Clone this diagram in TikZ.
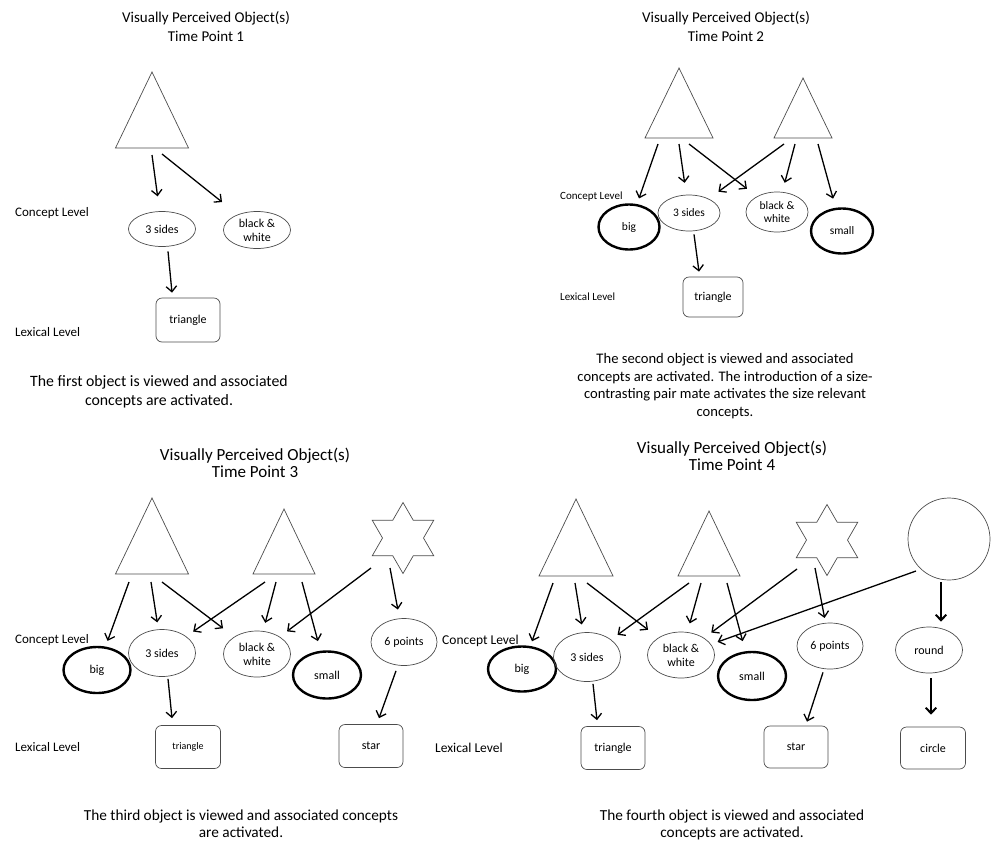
\documentclass[tikz,border=0pt]{standalone}
\usepackage{fontspec}
\setmainfont{Carlito}
\usetikzlibrary{arrows.meta, calc, shapes.geometric}

\begin{document}
\begin{tikzpicture}[x=1pt, y=-1pt,
  outline/.style={draw=black!70, line width=0.7pt},
  concept/.style={ellipse, outline, minimum width=67, minimum height=46, inner sep=0, align=center, font=\fontsize{12}{14}\selectfont},
  salient/.style={concept, draw=black, line width=2.4pt},
  lexbox/.style={rectangle, rounded corners=6, outline, minimum width=64, minimum height=43, inner sep=0, font=\fontsize{12}{14}\selectfont},
  link/.style={-{Straight Barb[length=5.5pt,width=10.5pt]}, line width=1.3pt},
  heading/.style={align=center, font=\fontsize{15}{19}\selectfont},
  bigheading/.style={align=center, font=\fontsize{17}{17}\selectfont},
  level/.style={anchor=west, inner sep=0, font=\fontsize{13}{15}\selectfont},
  caption/.style={align=center, font=\fontsize{15.3}{17}\selectfont}]
  \useasboundingbox (0,0) rectangle (992,841);

  % Perceived shapes
  \foreach \n/\x/\y/\h/\w in {t1/152/72/76/36.5, t2a/679/68/70/34, t2b/803/78/60/29,
      t3a/152/498/76/36.5, t3b/284/509/65/31, t4a/576/499/77/37, t4b/709/511/65/31} {
    \coordinate (\n) at (\x,\y);
    \draw[outline] (\n) -- ++(\w,\h) -- ++(-2*\w,0) -- cycle;
  }
  \foreach \n/\x/\y in {st3/403/538, st4/827/540} {
    \coordinate (\n) at (\x,\y);
    \draw[outline] ($(\n)+(90:35.5)$) \foreach \a in {120,180,...,420} {
      -- ($(\n)+(\a:20.5)$) -- ($(\n)+(\a+30:35.5)$)} -- cycle;
  }
  \node[circle, outline, minimum size=82, inner sep=0] (circ4) at (949,539) {};

  % Time point 1
  \node[heading] (h1) at (206,27) {Visually Perceived Object(s)\\Time Point 1};
  \node[concept, minimum height=35] (s1) at (162,229) {3 sides};
  \node[concept, minimum height=37] (bw1) at (257,230) {black \&\\white};
  \node[lexbox, minimum height=44] (tr1) at (188,320) {triangle};
  \node[level] (cl1) at (15,213) {Concept Level};
  \node[level] (ll1) at (15,332) {Lexical Level};
  \node[caption, font=\fontsize{15.8}{19}\selectfont] (c1) at (159,392) {The first object is viewed and associated\\concepts are activated.};
  \draw[link, shorten >=15pt] ($(t1)+(0,83)$) -- (s1);
  \draw[link, shorten >=20pt] ($(t1)+(10,82)$) -- (bw1);
  \draw[link] ($(s1.south)+(6,4.5)$) -- ($(tr1.north)+(-16,-5)$);

  % Time point 2
  \begin{scope}[concept/.append style={font=\fontsize{11.5}{13.5}\selectfont},
      level/.append style={font=\fontsize{11}{13}\selectfont}]
  \node[heading] (h2) at (726,27) {Visually Perceived Object(s)\\Time Point 2};
  \node[salient, minimum width=61, minimum height=45] (big2) at (629,227) {big};
  \node[concept, minimum width=62, minimum height=36] (s2) at (689,213) {3 sides};
  \node[concept, minimum width=62, minimum height=40] (bw2) at (777,212) {black \&\\white};
  \node[salient, minimum width=62, minimum height=45] (sm2) at (842,231) {small};
  \node[lexbox, minimum width=60, minimum height=40] (tr2) at (713,297) {triangle};
  \node[level] (cl2) at (560,197) {Concept Level};
  \node[level] (ll2) at (560,297) {Lexical Level};
  \end{scope}
  \node[caption, font=\fontsize{14.6}{17.4}\selectfont] (c2) at (725,386) {The second object is viewed and associated\\concepts are activated. The introduction of a size-\\contrasting pair mate activates the size relevant\\concepts.};
  \draw[link, shorten >=6pt] ($(t2a)+(-21,76)$) -- (big2);
  \draw[link, shorten >=12pt] ($(t2a)+(0,76)$) -- (s2);
  \draw[link, shorten >=12.5pt] ($(t2a)+(10,76)$) -- (bw2);
  \draw[link, shorten >=12pt] ($(t2b)+(-19,66)$) -- (s2);
  \draw[link, shorten >=9.5pt] ($(t2b)+(-8,66)$) -- (bw2);
  \draw[link, shorten >=9.5pt] ($(t2b)+(15,66)$) -- (sm2);
  \draw[link] ($(s2.south)+(5,3)$) -- ($(tr2.north)+(-14,-5)$);

  % Time point 3
  \node[bigheading] (h3) at (255,463) {Visually Perceived Object(s)\\Time Point 3};
  \node[salient] (big3) at (97,670) {big};
  \node[concept, minimum height=47] (s3) at (162,653) {3 sides};
  \node[concept] (bw3) at (257,654) {black \&\\white};
  \node[salient, minimum width=68, minimum height=47] (sm3) at (327,675) {small};
  \node[concept, minimum width=66, minimum height=47] (p3) at (404,642) {6 points};
  \node[lexbox, minimum width=65, font=\fontsize{10}{12}\selectfont] (tr3) at (188,747) {triangle};
  \node[lexbox] (sb3) at (371,746) {star};
  \node[level] (cl3) at (15,640) {Concept Level};
  \node[level] (ll3) at (15,747) {Lexical Level};
  \node[caption] (c3) at (241,824) {The third object is viewed and associated concepts\\are activated.};
  \draw[link, shorten >=6pt] ($(t3a)+(-23,84)$) -- (big3);
  \draw[link, shorten >=7pt] ($(t3a)+(-1,84)$) -- (s3);
  \draw[link, shorten >=14pt] ($(t3a)+(10,84)$) -- (bw3);
  \draw[link, shorten >=8.5pt] ($(t3b)+(-19,73)$) -- (s3);
  \draw[link, shorten >=8.5pt] ($(t3b)+(-8,73)$) -- (bw3);
  \draw[link, shorten >=10pt] ($(t3b)+(18,73)$) -- (sm3);
  \draw[link, shorten >=9pt] ($(st3)+(-32,30)$) -- (bw3);
  \draw[link, shorten >=9pt] ($(st3)+(-13,30)$) -- (p3);
  \draw[link] ($(s3.south)+(6,2)$) -- ($(tr3.north)+(-16,-7)$);
  \draw[link] ($(p3.south)+(-8,5)$) -- ($(sb3.north)+(8,-6)$);

  % Time point 4
  \node[bigheading] (h4) at (732,456) {Visually Perceived Object(s)\\Time Point 4};
  \node[salient, minimum width=68, minimum height=45] (big4) at (522,669) {big};
  \node[concept, minimum height=49] (s4) at (587,657) {3 sides};
  \node[concept] (bw4) at (681,655) {black \&\\white};
  \node[salient, minimum width=68, minimum height=48] (sm4) at (752,676) {small};
  \node[concept, minimum width=66] (p4) at (830,646) {6 points};
  \node[concept] (r4) at (929,650) {round};
  \node[lexbox] (tr4) at (613,748) {triangle};
  \node[lexbox, minimum height=42] (sb4) at (796,747) {star};
  \node[lexbox, minimum width=65, minimum height=42] (cb4) at (933,748) {circle};
  \node[level, font=\fontsize{13.5}{15}\selectfont] (cl4) at (442,641) {Concept Level};
  \node[level, font=\fontsize{13.5}{15}\selectfont] (ll4) at (435,748) {Lexical Level};
  \node[caption] (c4) at (732,825) {The fourth object is viewed and associated\\concepts are activated.};
  \draw[link, shorten >=5pt] ($(t4a)+(-23,84)$) -- (big4);
  \draw[link, shorten >=8pt] ($(t4a)+(-1,84)$) -- (s4);
  \draw[link, shorten >=13pt] ($(t4a)+(11,84)$) -- (bw4);
  \draw[link, shorten >=8pt] ($(t4b)+(-20,72)$) -- (s4);
  \draw[link, shorten >=9pt] ($(t4b)+(-8,72)$) -- (bw4);
  \draw[link, shorten >=10.5pt] ($(t4b)+(18,72)$) -- (sm4);
  \draw[link, shorten >=9pt] ($(st4)+(-30,29)$) -- (bw4);
  \draw[link, shorten >=5pt] ($(st4)+(-12,28)$) -- (p4);
  \draw[link, shorten >=7pt] ($(circ4)+(-33,32)$) -- (bw4);
  \draw[link, line width=2pt] ($(circ4.south)+(-8,2)$) -- ($(r4.north)+(12,-5)$);
  \draw[link] ($(s4.south)+(6,2)$) -- ($(tr4.north)+(-16,-6)$);
  \draw[link] ($(p4.south)+(-7,3)$) -- ($(sb4.north)+(11,-4)$);
  \draw[link, line width=2pt] ($(r4.south)+(2,5)$) -- ($(cb4.north)+(-2,-12)$);
\end{tikzpicture}
\end{document}
